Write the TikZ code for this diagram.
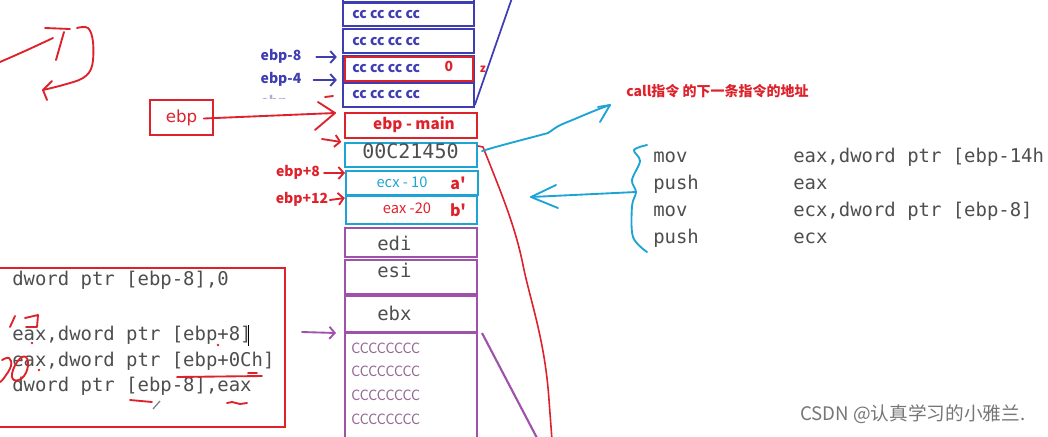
\documentclass[tikz,border=0pt]{standalone}
\usepackage{fontspec}
\setmainfont{DejaVu Sans}
\newfontfamily\cjk{Noto Sans CJK SC}
\newfontfamily\mono{DejaVu Sans Mono}
\usetikzlibrary{arrows.meta,positioning}
\definecolor{stkblue}{RGB}{62,62,178}
\definecolor{stkred}{RGB}{222,34,44}
\definecolor{stkcyan}{RGB}{30,164,212}
\definecolor{stkpurple}{RGB}{158,82,170}
\definecolor{codegray}{RGB}{78,78,78}
\definecolor{ccpurple}{RGB}{150,104,150}
\definecolor{fadeblue}{RGB}{176,176,214}
\definecolor{markgray}{RGB}{118,118,118}
\tikzset{
  cell/.style={draw, line width=1.5pt, inner sep=0pt, minimum width=98pt},
  lbl/.style={font=\cjk\bfseries\fontsize{10.5}{12}\selectfont, inner sep=0pt,
    text height=0.75em, text depth=0.2em},
  plain/.style={font=\cjk\fontsize{11}{12}\selectfont, inner sep=0pt,
    text height=0.75em, text depth=0.2em},
  asm/.style={font=\mono\fontsize{14.2}{16}\selectfont, text=codegray, inner sep=0pt,
    anchor=west, text height=0.75em, text depth=0.2em},
  hand/.style={line width=1.4pt, line cap=round, line join=round},
  tip/.style={-{Straight Barb[length=4pt,width=9pt]}},
}
\begin{document}
\begin{tikzpicture}[x=0.75pt,y=-0.75pt]
\useasboundingbox (0,0) rectangle (1048,436);
\clip (0,0) rectangle (1048,436);

% stack frame of the callee
\node[cell, draw=stkblue, minimum height=20pt] (b0) at (408.5,-11.5) {};
\node[cell, draw=stkblue, minimum height=17.25pt] (b1) at (408.5,14.5) {};
\node[cell, draw=stkblue, minimum height=18pt] (b2) at (408.5,41) {};
\node[cell, draw=stkblue, minimum height=18.75pt] (b3) at (408.5,68.5) {};
\node[cell, draw=stkblue, minimum height=18pt] (b4) at (408.5,95) {};
\node[cell, draw=stkred, minimum width=96pt, minimum height=17.5pt] (zcell) at (409,69) {};
\foreach \y in {15,42,69,95}
  \node[lbl, text=stkblue, anchor=west] at (352,\y) {cc cc cc cc};
\node[lbl, text=stkred] (zval) at (449,68) {0};
\node[lbl, text=stkred, font=\cjk\bfseries\fontsize{8.5}{10}\selectfont] (zname) at (483,69) {z};

% saved ebp, return address, arguments
\node[cell, draw=stkred, minimum width=99pt, minimum height=18.75pt] (oldebp) at (411,125.5) {};
\node[lbl, text=stkred, font=\cjk\bfseries\fontsize{11.5}{13}\selectfont] at (414,126) {ebp - main};
\node[cell, draw=stkcyan, minimum width=99pt, minimum height=18pt] (ret) at (411,155) {};
\node[asm, font=\mono\fontsize{15}{17}\selectfont] at (362,155) {00C21450};
\node[cell, draw=stkcyan, minimum width=99pt, minimum height=18pt] (arga) at (412,183) {};
\node[plain, text=stkcyan] at (402,184) {ecx - 10};
\node[lbl, text=stkred, font=\cjk\bfseries\fontsize{12}{13}\selectfont] at (458,186) {a'};
\node[cell, draw=stkcyan, minimum width=98.5pt, minimum height=21pt] (argb) at (411.5,210) {};
\node[plain, text=stkred] at (407,210) {eax -20};
\node[lbl, text=stkred, font=\cjk\bfseries\fontsize{12}{13}\selectfont] at (458,213) {b'};

% registers saved by main, then main's own frame
\node[cell, draw=stkpurple, minimum width=99pt, minimum height=21.75pt] (edi) at (411,242.5) {};
\node[asm] at (377,247) {edi};
\node[cell, draw=stkpurple, minimum width=99pt, minimum height=25.5pt] (esi) at (411,277) {};
\node[asm] at (377,274) {esi};
\node[cell, draw=stkpurple, minimum width=99pt, minimum height=27pt] (ebx) at (411,314) {};
\node[asm] at (377,317) {ebx};
\node[cell, draw=stkpurple, minimum width=99pt, minimum height=96pt] (mainfr) at (411,397) {};
\draw[stkpurple, line width=2.2pt] (ebx.south west) -- (ebx.south east);
\foreach \y in {350,373,397,421}
  \node[plain, text=ccpurple, font=\cjk\fontsize{10.6}{12}\selectfont, anchor=west] at (351,\y) {CCCCCCCC};

% slanted edges
\coordinate (btop) at (512,-2);
\coordinate (pbot) at (537,438);
\draw[stkblue, line width=1.3pt] (b4.south east) ++(0,-3) -- (btop);
\draw[stkpurple, line width=1.6pt] (mainfr.north east) ++(4,1) -- (pbot);
\draw[stkred, hand, line width=1.2pt] (ret.north east) ++(0,4) -- ++(5,1)
  .. controls (500,190) and (515,225) .. (523,265)
  .. controls (530,300) and (545,340) .. (549,400) -- (552,440);

% labels on the left of the stack
\node[lbl, text=stkblue] (m8) at (281,57) {ebp-8};
\node[lbl, text=stkblue] (m4) at (281,80) {ebp-4};
\begin{scope}
  \clip (250,91) rectangle (300,98);
  \node[lbl, text=fadeblue] (m0) at (274,103) {ebp};
\end{scope}
\draw[stkblue, hand, tip] ([xshift=11pt]m8.east) -- ([xshift=-4pt]b3.west |- m8);
\draw[stkblue, hand, tip] ([xshift=9pt]m4.east) -- ([xshift=-4pt]b4.west |- m4);
\draw[stkred, hand] (325,97) -- (333,96);
\node[lbl, text=stkred] (p8) at (298,173) {ebp+8};
\node[lbl, text=stkred] (p12) at (302,200) {ebp+12};
\draw[stkred, hand, tip] ([xshift=3pt]p8.east) -- (arga.west |- p8);
\draw[stkred, hand, tip] ([xshift=1pt]p12.east) -- (argb.west |- 0,198);
\draw[stkred, hand, tip] (322,139) -- ([xshift=-2pt]ret.north west);

% ebp register
\node[draw=stkred, line width=1.5pt, minimum width=47pt, minimum height=26pt,
  inner sep=0pt, font=\fontsize{12.5}{14}\selectfont, text=stkred] (ebpreg) at (181.5,117.5) {ebp};
\coordinate (ebptip) at (335,113);
\draw[stkred, hand] (ebpreg.east) ++(-10,1) -- (ebptip);
\draw[stkred, hand] (318,102) -- (ebptip) -- (315,130);

% hand drawn loop at the top left
\draw[stkred, hand] plot[smooth, tension=0.6] coordinates {(0,62) (25,51) (53,38)};
\draw[stkred, hand] (45,28) -- (70,29);
\draw[stkred, hand] (64,32) -- (56,60);
\draw[stkred, hand] plot[smooth, tension=0.6] coordinates
  {(77,28) (88,28) (93,42) (92,66) (83,78) (63,85) (43,90)};
\draw[stkred, hand] (52,81) -- (43,90) -- (47,100);

% return address note
\node[lbl, text=stkred, anchor=west] (note) at (626,93) {call指令 的下一条指令的地址};
\coordinate (notetip) at (610,105);
\draw[stkcyan, hand] (ret.east) ++(4,-4) .. controls (505,144) and (530,138) .. (548,133)
  .. controls (553,130) and (555,127) .. (565,123)
  .. controls (580,117) and (595,110) .. (notetip);
\draw[stkcyan, hand] (598,107) -- (notetip) -- (600,122);

% pushed arguments
\foreach \y/\op/\arg in {159/mov/{eax,dword ptr [ebp-14h},186/push/eax,
    213/mov/{ecx,dword ptr [ebp-8]},240/push/ecx} {
  \node[asm] at (653,\y) {\op};
  \node[asm] at (793,\y) {\arg};
}
\coordinate (bracemid) at (636,192);
\coordinate (pushtip) at (531,197);
\draw[stkcyan, hand] plot[smooth, tension=0.55] coordinates
  {(647,145) (634,150) (640,161) (632,180) (bracemid) (632,206) (633,237) (647,252)};
\draw[stkcyan, hand] (bracemid) -- (pushtip);
\draw[stkcyan, hand] (556,185) -- (pushtip) -- (558,208);

% code of the callee
\node[draw=stkred, line width=1.5pt, minimum width=217.5pt, minimum height=119.25pt,
  inner sep=0pt] (code) at (140,347.5) {};
\node[asm] (l1) at (12,282) {dword ptr [ebp-8],0};
\node[asm] (l2) at (12,337) {eax,dword ptr [ebp+8]};
\node[asm] (l3) at (12,363) {eax,dword ptr [ebp+0Ch]};
\node[asm] (l4) at (12,388) {dword ptr [ebp-8],eax};
\draw[black, line width=0.6pt] (248,325) -- (248,346);
\draw[stkred, hand] (10,327) -- (15,316);
\draw[stkred, hand] (25,318) -- (38,315) -- (37,327) -- (26,327);
\draw[stkred, hand] plot[smooth, tension=0.7] coordinates
  {(2,360) (9,358) (11,366) (4,378) (0,382)};
\draw[stkred, hand] plot[smooth cycle, tension=0.8] coordinates
  {(22,357) (28,362) (24,376) (14,380) (13,370)};
\draw[stkred, hand] (177,377) -- (262,376);
\draw[stkred, hand] (248,373) -- (257,373);
\draw[stkred, hand] (130,400) -- (152,402);
\draw[gray, line width=1pt] (153,409) -- (160,401);
\draw[stkred, hand] (227,403) -- (232,402) -- (240,404) -- (247,403);
\fill[stkred] (32,343) circle (1pt) (218,345) circle (1pt) (39,370) circle (1pt);
\draw[stkpurple, hand, tip] (302,332) -- ([xshift=-6pt]ebx.south west);

% watermark
\node[font=\cjk\fontsize{14}{16}\selectfont, text=markgray, anchor=west, inner sep=0pt]
  (mark) at (800,414) {CSDN @认真学习的小雅兰.};
\end{tikzpicture}
\end{document}
